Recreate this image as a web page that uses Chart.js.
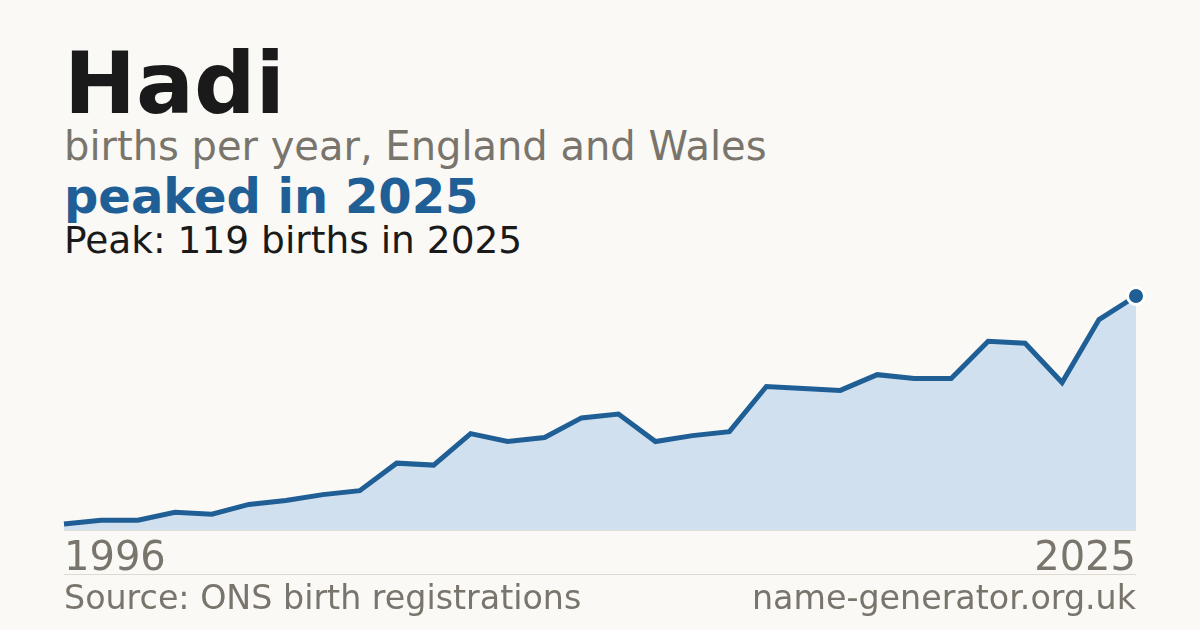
<!DOCTYPE html>
<html>
<head>
<meta charset="utf-8">
<script src="https://cdn.jsdelivr.net/npm/chart.js@4"></script>
<style>
  html, body { margin: 0; padding: 0; }
  body {
    width: 1200px; height: 630px; overflow: hidden; position: relative;
    background: #faf9f5; font-family: "DejaVu Sans", sans-serif;
  }
  .txt { position: absolute; left: 64px; line-height: 1; white-space: nowrap; }
  #title { top: 40px; font-size: 86px; font-weight: bold; color: #1a1a1a; }
  #subtitle { top: 126px; font-size: 40px; color: #79746c; }
  #headline { top: 172px; font-size: 48px; font-weight: bold; color: #1f5f96; }
  #peak { top: 222px; font-size: 37.5px; color: #1a1a1a; }
  .year { top: 536px; font-size: 40px; color: #79746c; }
  #yearEnd { left: auto; right: 64px; }
  .foot { top: 581px; font-size: 33.3px; color: #79746c; }
  #site { left: auto; right: 64px; }
  .rule { position: absolute; left: 64px; width: 1072px; height: 1px; }
  #base { top: 530px; background: #e4dfd6; }
  #sep { top: 574px; background: #dedad2; }
  #wrap { position: absolute; left: 40px; top: 270px; width: 1120px; height: 266px; }
</style>
</head>
<body>
<div id="title" class="txt">Hadi</div>
<div id="subtitle" class="txt">births per year, England and Wales</div>
<div id="headline" class="txt">peaked in 2025</div>
<div id="peak" class="txt">Peak: 119 births in 2025</div>

<div id="wrap"><canvas id="chart"></canvas></div>
<div id="base" class="rule"></div>

<div id="yearStart" class="txt year"></div>
<div id="yearEnd" class="txt year"></div>
<div id="sep" class="rule"></div>
<div class="txt foot">Source: ONS birth registrations</div>
<div id="site" class="txt foot">name-generator.org.uk</div>

<script>
// Births per year for the name
const years = ['1996', '1997', '1998', '1999', '2000', '2001', '2002', '2003', '2004', '2005',
               '2006', '2007', '2008', '2009', '2010', '2011', '2012', '2013', '2014', '2015',
               '2016', '2017', '2018', '2019', '2020', '2021', '2022', '2023', '2024', '2025'];
const births = [3, 5, 5, 9, 8, 13, 15, 18, 20, 34,
                33, 49, 45, 47, 57, 59, 45, 48, 50, 73,
                72, 71, 79, 77, 77, 96, 95, 75, 107, 119];
const axisLabels = ['1996', '2025'];

document.getElementById('yearStart').textContent = axisLabels[0];
document.getElementById('yearEnd').textContent = axisLabels[1];

const lastIndex = births.length - 1;
const ctx = document.getElementById('chart').getContext('2d');

const chart = new Chart(ctx, {
    type: 'line',
    data: {
        labels: years,
        datasets: [{
            data: births,
            borderColor: '#1f5f96',
            backgroundColor: '#d0e0ef',
            borderWidth: 5,
            fill: 'origin',
            tension: 0,
            pointRadius: (c) => c.dataIndex === lastIndex ? 8.5 : 0,
            pointBackgroundColor: '#1f5f96',
            pointBorderColor: '#ffffff',
            pointBorderWidth: 3,
            pointHoverRadius: 0
        }]
    },
    options: {
        responsive: true,
        maintainAspectRatio: false,
        animation: false,
        clip: false,
        layout: { autoPadding: false, padding: { left: 24, right: 24, top: 26, bottom: 6 } },
        plugins: {
            legend: { display: false },
            tooltip: { enabled: false }
        },
        scales: {
            x: { display: false, offset: false },
            y: { display: false, min: 0, max: 119 }
        }
    }
});
</script>
</body>
</html>
